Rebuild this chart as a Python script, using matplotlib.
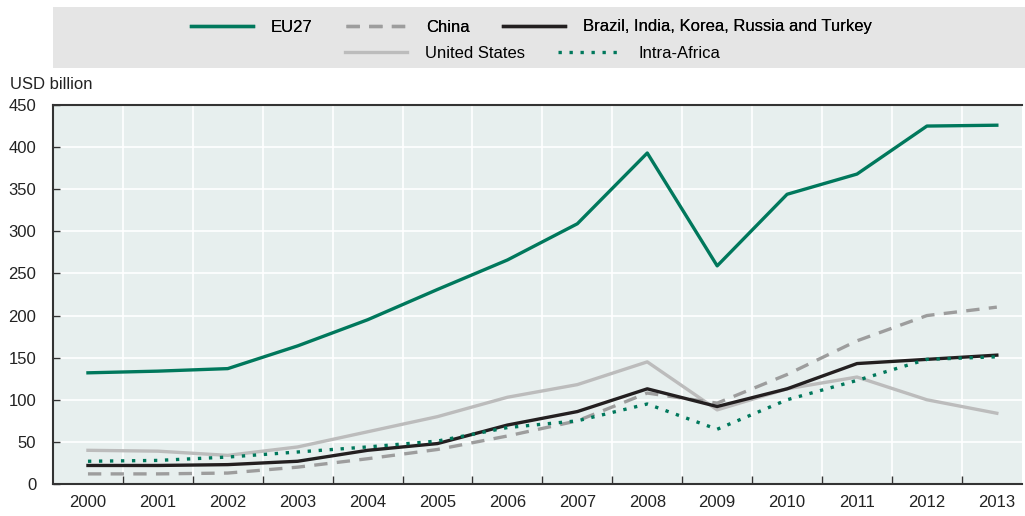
import matplotlib
matplotlib.use("Agg")
import matplotlib.pyplot as plt
from matplotlib.patches import Rectangle

plt.rcParams["font.family"] = ["Liberation Sans", "DejaVu Sans"]

years = ["2000", "2001", "2002", "2003", "2004", "2005", "2006",
         "2007", "2008", "2009", "2010", "2011", "2012", "2013"]
eu27 = [132, 134, 137, 164, 195, 231, 266, 309, 393, 259, 344, 368, 425, 426]
china = [12, 12, 13, 20, 30, 41, 57, 75, 108, 96, 130, 170, 200, 210]
bikrt = [22, 22, 23, 27, 40, 48, 70, 86, 113, 92, 113, 143, 148, 153]
usa = [40, 39, 34, 44, 62, 80, 103, 118, 145, 88, 113, 127, 100, 84]
africa = [27, 28, 32, 38, 44, 51, 67, 75, 95, 65, 100, 123, 148, 151]

C_TEAL = "#00785c"
C_GREY = "#9d9d9d"
C_LGREY = "#bcbcbc"
C_BLACK = "#231f20"
FS = 12

fig = plt.figure(figsize=(10.25, 5.16), dpi=100)
fig.patch.set_facecolor("white")
W, H = 1025, 516
ax = fig.add_axes([53 / W, 32 / H, (1022 - 53) / W, (484 - 105) / H])
ax.set_facecolor("#e7efee")

x = list(range(len(years)))
lw = 2.4
l_eu, = ax.plot(x, eu27, color=C_TEAL, lw=lw, label="EU27", zorder=5)
l_cn, = ax.plot(x, china, color=C_GREY, lw=lw, ls=(0, (4, 2.8)), label="China", zorder=3)
l_us, = ax.plot(x, usa, color=C_LGREY, lw=lw, label="United States", zorder=2)
l_bk, = ax.plot(x, bikrt, color=C_BLACK, lw=lw, label="Brazil, India, Korea, Russia and Turkey", zorder=4)
l_af, = ax.plot(x, africa, color=C_TEAL, lw=lw, ls=(0, (1, 2.3)), label="Intra-Africa", zorder=6)

ax.set_xlim(-0.5, 13.36)
ax.set_ylim(0, 450)
ax.set_yticks(range(0, 451, 50))
ax.set_xticks(x)
ax.set_xticklabels(years)
ax.set_xticks([i + 0.5 for i in range(13)], minor=True)
ax.grid(True, which="minor", axis="x", color="white", lw=1.2)
ax.grid(True, which="major", axis="y", color="white", lw=1.2)
ax.set_axisbelow(True)
ax.tick_params(axis="x", which="major", length=0, labelsize=FS, pad=8, colors="#222222")
ax.tick_params(axis="x", which="minor", direction="in", length=6, color="#333333", width=1)
ax.tick_params(axis="y", direction="in", length=5, color="#333333", width=1,
               labelsize=FS, pad=12, labelcolor="#222222")
for s in ["left", "bottom", "top"]:
    ax.spines[s].set_color("#333333")
    ax.spines[s].set_linewidth(1.5)
ax.spines["right"].set_visible(False)

fig.text(10 / W, 1 - 84 / H, "USD billion", fontsize=FS, va="center", ha="left", color="#222222")

# legend box
fig.patches.append(Rectangle((53 / W, 1 - 68 / H), (1025 - 53) / W, 61 / H,
                             transform=fig.transFigure, facecolor="#e5e5e5",
                             edgecolor="none", zorder=0))
leg_kw = dict(frameon=False, fontsize=FS, handlelength=3.7, columnspacing=2.0,
              handletextpad=1.1, borderpad=0, borderaxespad=0)
leg1 = fig.legend(handles=[l_eu, l_cn, l_bk], loc="center left",
                  bbox_to_anchor=(191 / W, 1 - 27 / H), ncol=3, **leg_kw)
leg2 = fig.legend(handles=[l_us, l_af], loc="center left",
                  bbox_to_anchor=(345 / W, 1 - 53 / H), ncol=2, **leg_kw)
fig.add_artist(leg1)

fig.savefig("out.png", dpi=100, facecolor="white")
